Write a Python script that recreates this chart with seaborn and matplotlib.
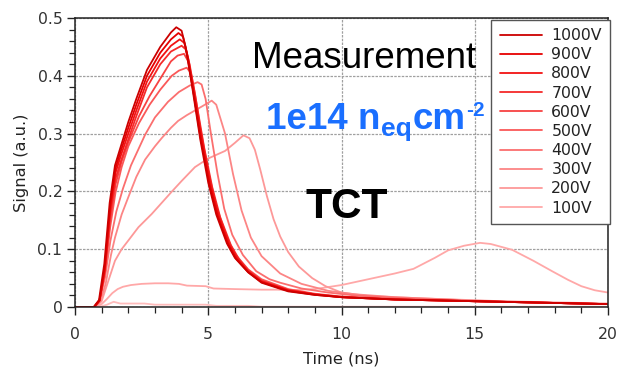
import numpy as np
import pandas as pd
import matplotlib
matplotlib.use("Agg")
import matplotlib.pyplot as plt
from matplotlib.ticker import MultipleLocator, FuncFormatter
import seaborn as sns

# ---------------- data ----------------
labels = ["1000V", "900V", "800V", "700V", "600V", "500V", "400V", "300V", "200V", "100V"]
colors = ["#cc0000", "#e60000", "#f21212", "#f52a2a", "#f74242", "#fa5858", "#fb6e6e",
          "#fc8585", "#fd9898", "#ffa8a8"]

t_1000 = [0, 0.7, 0.9, 1.1, 1.3, 1.5, 1.7, 2.0, 2.3, 2.7, 3.2, 3.6, 3.8, 4.0, 4.15, 4.4, 4.7, 5.0, 5.3, 5.7, 6.0, 6.5, 7.0, 8.0, 9.0, 10, 12, 15, 18, 20]
s_1000 = [0, 0, 0.012, 0.075, 0.18, 0.245, 0.275, 0.32, 0.36, 0.41, 0.45, 0.475, 0.484, 0.478, 0.45, 0.38, 0.29, 0.215, 0.16, 0.11, 0.085, 0.06, 0.042, 0.027, 0.021, 0.017, 0.013, 0.010, 0.007, 0.005]

t_900 = [0, 0.72, 0.92, 1.12, 1.32, 1.52, 1.72, 2.0, 2.3, 2.7, 3.2, 3.6, 3.88, 4.05, 4.2, 4.45, 4.75, 5.05, 5.35, 5.75, 6.05, 6.5, 7.0, 8.0, 9.0, 10, 12, 15, 18, 20]
s_900 = [0, 0, 0.011, 0.07, 0.175, 0.24, 0.27, 0.31, 0.35, 0.40, 0.44, 0.463, 0.474, 0.468, 0.44, 0.37, 0.285, 0.212, 0.158, 0.108, 0.083, 0.06, 0.043, 0.028, 0.021, 0.017, 0.013, 0.010, 0.007, 0.005]

t_800 = [0, 0.72, 0.92, 1.12, 1.32, 1.52, 1.72, 2.0, 2.3, 2.7, 3.2, 3.6, 3.93, 4.1, 4.25, 4.5, 4.8, 5.1, 5.4, 5.8, 6.1, 6.5, 7.0, 8.0, 9.0, 10, 12, 15, 18, 20]
s_800 = [0, 0, 0.011, 0.066, 0.168, 0.232, 0.262, 0.30, 0.34, 0.39, 0.43, 0.452, 0.463, 0.457, 0.43, 0.362, 0.28, 0.21, 0.157, 0.107, 0.083, 0.061, 0.044, 0.029, 0.022, 0.017, 0.013, 0.010, 0.007, 0.005]

t_700 = [0, 0.72, 0.92, 1.12, 1.32, 1.52, 1.72, 2.0, 2.3, 2.7, 3.2, 3.6, 4.0, 4.15, 4.3, 4.55, 4.85, 5.15, 5.45, 5.85, 6.15, 6.5, 7.0, 8.0, 9.0, 10, 12, 15, 18, 20]
s_700 = [0, 0, 0.011, 0.062, 0.16, 0.222, 0.252, 0.29, 0.33, 0.38, 0.42, 0.442, 0.452, 0.446, 0.42, 0.355, 0.275, 0.207, 0.155, 0.107, 0.083, 0.063, 0.045, 0.029, 0.022, 0.017, 0.013, 0.010, 0.007, 0.005]

t_600 = [0, 0.72, 0.92, 1.12, 1.32, 1.52, 1.75, 2.0, 2.4, 2.8, 3.2, 3.6, 3.85, 4.09, 4.25, 4.45, 4.7, 5.0, 5.3, 5.7, 6.0, 6.5, 7.0, 8.0, 9.0, 10, 12, 15, 18, 20]
s_600 = [0, 0, 0.012, 0.062, 0.15, 0.212, 0.252, 0.285, 0.33, 0.365, 0.395, 0.425, 0.435, 0.438, 0.425, 0.37, 0.295, 0.225, 0.167, 0.116, 0.09, 0.064, 0.046, 0.030, 0.022, 0.018, 0.013, 0.010, 0.007, 0.005]

t_500 = [0, 0.72, 0.92, 1.12, 1.32, 1.52, 1.75, 2.0, 2.4, 2.8, 3.2, 3.63, 3.9, 4.19, 4.35, 4.5, 4.7, 5.0, 5.3, 5.7, 6.0, 6.5, 7.0, 8.0, 9.0, 10, 12, 15, 18, 20]
s_500 = [0, 0, 0.012, 0.058, 0.138, 0.198, 0.242, 0.278, 0.318, 0.35, 0.376, 0.400, 0.409, 0.414, 0.405, 0.37, 0.31, 0.235, 0.175, 0.12, 0.092, 0.065, 0.048, 0.031, 0.023, 0.018, 0.014, 0.010, 0.007, 0.005]

t_400 = [0, 0.73, 0.93, 1.13, 1.33, 1.55, 1.8, 2.1, 2.63, 3.0, 3.49, 3.9, 4.3, 4.6, 4.75, 4.9, 5.1, 5.35, 5.6, 5.9, 6.3, 6.8, 7.3, 7.7, 8.5, 9.5, 10.5, 12, 15, 18, 20]
s_400 = [0, 0, 0.012, 0.052, 0.115, 0.165, 0.205, 0.245, 0.298, 0.328, 0.355, 0.372, 0.383, 0.389, 0.385, 0.36, 0.30, 0.23, 0.17, 0.125, 0.09, 0.062, 0.048, 0.042, 0.032, 0.025, 0.020, 0.016, 0.010, 0.007, 0.005]

t_300 = [0, 0.75, 0.95, 1.15, 1.35, 1.5, 1.75, 2.0, 2.3, 2.63, 3.0, 3.25, 3.6, 3.87, 4.2, 4.5, 4.8, 5.13, 5.3, 5.63, 5.93, 6.25, 6.6, 7.0, 7.7, 8.5, 9.5, 10.5, 12, 15, 18, 20]
s_300 = [0, 0, 0.01, 0.04, 0.09, 0.12, 0.16, 0.19, 0.225, 0.255, 0.278, 0.292, 0.31, 0.322, 0.332, 0.34, 0.348, 0.357, 0.35, 0.30, 0.23, 0.167, 0.12, 0.088, 0.058, 0.04, 0.028, 0.022, 0.017, 0.011, 0.007, 0.005]

t_200 = [0, 0.78, 1.0, 1.25, 1.5, 1.75, 2.0, 2.38, 2.88, 3.25, 3.6, 4.0, 4.5, 5.0, 5.63, 6.0, 6.32, 6.55, 6.75, 6.95, 7.2, 7.45, 7.7, 8.0, 8.4, 8.9, 9.4, 10, 11, 13, 16, 20]
s_200 = [0, 0, 0.01, 0.045, 0.08, 0.1, 0.115, 0.138, 0.161, 0.18, 0.198, 0.218, 0.242, 0.257, 0.27, 0.284, 0.297, 0.292, 0.272, 0.238, 0.192, 0.152, 0.122, 0.095, 0.07, 0.05, 0.036, 0.025, 0.019, 0.015, 0.010, 0.006]

t_100 = [0, 0.8, 1.0, 1.2, 1.4, 1.6, 1.8, 2.1, 2.5, 3.0, 3.5, 3.9, 4.2, 4.9, 5.2, 6.0, 7.0, 7.6, 8.0, 9.0, 10.0, 11.0, 12.0, 12.7, 13.5, 14.0, 14.6, 15.2, 15.6, 16.4, 17.2, 17.9, 18.5, 19.0, 19.5, 20]
s_100 = [0, 0, 0.005, 0.014, 0.024, 0.031, 0.035, 0.038, 0.040, 0.041, 0.041, 0.040, 0.037, 0.036, 0.032, 0.031, 0.030, 0.030, 0.029, 0.031, 0.038, 0.048, 0.058, 0.066, 0.085, 0.098, 0.106, 0.111, 0.109, 0.099, 0.080, 0.062, 0.047, 0.036, 0.029, 0.025]

# faint near-zero trace (not in legend)
t_base = [0, 0.9, 1.2, 1.45, 1.7, 2.6, 3.0, 4.9, 5.3, 6.5, 7.0, 20]
s_base = [0, 0, 0.004, 0.009, 0.006, 0.006, 0.004, 0.004, 0.002, 0.002, 0.0005, 0.0005]

times = [t_1000, t_900, t_800, t_700, t_600, t_500, t_400, t_300, t_200, t_100]
signals = [s_1000, s_900, s_800, s_700, s_600, s_500, s_400, s_300, s_200, s_100]

frames = []
for lab, tt, ss in zip(labels, times, signals):
    frames.append(pd.DataFrame({"t": tt, "s": ss, "V": lab}))
df = pd.concat(frames, ignore_index=True)
df_base = pd.DataFrame({"t": t_base, "s": s_base})

# ---------------- plot ----------------
sns.set_theme(style="white")
plt.rcParams["font.family"] = ["DejaVu Sans"]

fig = plt.figure(figsize=(6.25, 3.75), dpi=100)
ax = fig.add_axes([75 / 625, 1 - 307 / 375, (608 - 75) / 625, (307 - 18) / 375])

sns.lineplot(data=df_base, x="t", y="s", ax=ax, color="#ffbcbc", lw=1.3,
             sort=False, estimator=None, legend=False)
# draw lower voltages first so the strong curves sit on top
for lab, col in list(zip(labels, colors))[::-1]:
    sub = df[df["V"] == lab]
    sns.lineplot(data=sub, x="t", y="s", ax=ax, color=col, lw=1.3,
                 sort=False, estimator=None, label=lab)

ax.set_xlim(0, 20)
ax.set_ylim(0, 0.5)
ax.xaxis.set_major_locator(MultipleLocator(5))
ax.xaxis.set_minor_locator(MultipleLocator(1))
ax.yaxis.set_major_locator(MultipleLocator(0.1))
ax.yaxis.set_minor_locator(MultipleLocator(0.02))
fmt = FuncFormatter(lambda v, p: f"{v:g}")
ax.xaxis.set_major_formatter(fmt)
ax.yaxis.set_major_formatter(fmt)

ax.grid(True, which="major", color="#a0a0a0", linestyle=(0, (2, 1)), linewidth=0.9)
ax.tick_params(which="major", direction="out", length=6, width=1, color="#222222",
               labelsize=11.3, labelcolor="#333333", bottom=True, left=True)
ax.tick_params(axis="x", which="major", pad=8.5)
ax.tick_params(axis="y", which="major", pad=3)
ax.tick_params(which="minor", direction="out", length=4, width=0.9, color="#222222",
               bottom=True, left=True)
for sp in ax.spines.values():
    sp.set_color("#222222")
    sp.set_linewidth(1.1)

ax.set_xlabel("Time (ns)", fontsize=11.7, color="#222222", labelpad=7)
ax.set_ylabel("Signal (a.u.)", fontsize=11.7, color="#222222", labelpad=6)

handles, labs = ax.get_legend_handles_labels()
order = [labs.index(l) for l in labels]
leg = ax.legend([handles[i] for i in order], [labs[i] for i in order],
                loc="upper right", bbox_to_anchor=(610 / 625, 1 - 20 / 375),
                bbox_transform=fig.transFigure, borderaxespad=0,
                fontsize=11.3, frameon=True, fancybox=False, framealpha=1,
                edgecolor="#555555", handlelength=2.7, handletextpad=0.6,
                labelspacing=0.265, borderpad=0.52)
leg.get_frame().set_linewidth(1.0)
for txt in leg.get_texts():
    txt.set_color("#222222")

fig.text(252 / 625, 1 - 68 / 375, "Measurement", fontsize=26.5, family="Liberation Sans",
         color="black", va="baseline", ha="left")

# blue fluence label built from pieces (subscript / superscript)
blue = "#1a6fff"
bkw = dict(family="Liberation Sans", fontweight="bold", color=blue, va="baseline", ha="left")
renderer = fig.canvas.get_renderer()
pieces = [("1e14 n", 26.5, 0), ("eq", 19, -7), ("cm", 26.5, 0), ("-2", 15, 13)]
x_px = 266.0
base_px = 129.0
for txt, fs, dy in pieces:
    tobj = fig.text(x_px / 625, 1 - (base_px - dy) / 375, txt, fontsize=fs, **bkw)
    bb = tobj.get_window_extent(renderer=renderer)
    x_px = bb.x1 + 0.5

fig.text(305 / 625, 1 - 218 / 375, "TCT", fontsize=30.5, family="Liberation Sans",
         fontweight="bold", color="black", va="baseline", ha="left")

fig.savefig("out.png", dpi=100)
